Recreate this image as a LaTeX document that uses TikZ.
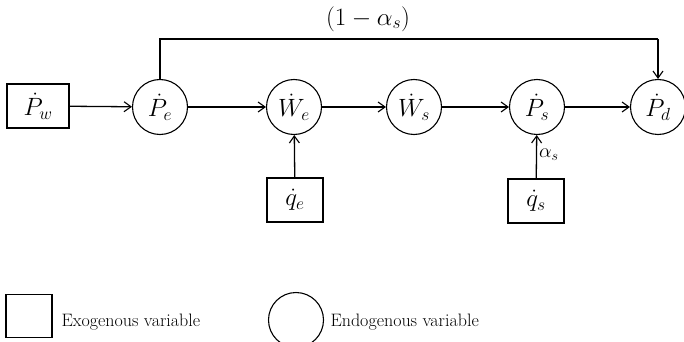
\documentclass[tikz,border=0pt]{standalone}
\usepackage{fix-cm}
\usetikzlibrary{arrows.meta}
\begin{document}
\begin{tikzpicture}[x=1pt,y=-1pt,
  exo/.style={draw,line width=1.1pt,minimum width=#1,minimum height=44pt,inner sep=0pt},
  endo/.style={draw,circle,line width=1.1pt,minimum size=55pt,inner sep=0pt},
  conn/.style={line width=1.3pt,-{Straight Barb[length=7pt,width=10pt,line width=1.1pt]}},
  mfont/.style={font=\fontsize{25}{28}\selectfont},
  sfont/.style={font=\fontsize{20}{24}\selectfont},
  lfont/.style={font=\fontsize{25}{28}\selectfont},
  tfont/.style={font=\fontsize{18}{21}\selectfont}]
\useasboundingbox (0,0) rectangle (684,342);
\node[exo=62pt,mfont] (pw) at (38,106) {$\dot{P}_w$};
\node[endo,mfont] (pe) at (160,107) {$\dot{P}_e$};
\node[endo,mfont] (we) at (294,107) {$\dot{W}_e$};
\node[endo,mfont] (ws) at (414,107) {$\dot{W}_s$};
\node[endo,mfont] (ps) at (537,107) {$\dot{P}_s$};
\node[endo,mfont] (pd) at (658,107) {$\dot{P}_d$};
\node[exo=56pt,mfont] (qe) at (295,200) {$\dot{q}_e$};
\node[exo=56pt,mfont] (qs) at (536,201) {$\dot{q}_s$};
\draw[conn] (pw) -- (pe);
\draw[conn] (pe) -- (we);
\draw[conn] (we) -- (ws);
\draw[conn] (ws) -- (ps);
\draw[conn] (ps) -- (pd);
\draw[conn] (qe) -- (we);
\draw[conn] (qs) -- node[right,sfont,pos=0.55,inner sep=2pt] (as) {$\alpha_s$} (ps);
\coordinate (c1) at (160,39);
\coordinate (c2) at (658,39);
\draw[line width=1.3pt] (pe.north) -- (c1) -- (c2);
\draw[conn] (c2) -- (pd.north);
\node[lfont,inner sep=0pt] (lab) at (368,19) {$(1-\alpha_s)$};
% legend
\node[exo=46pt,minimum height=43pt] (lsq) at (29,316) {};
\node[tfont,anchor=west] (lsqt) at (58,322) {Exogenous variable};
\node[endo] (lci) at (296,320) {};
\node[tfont,anchor=west] (lcit) at (327,322) {Endogenous variable};
\end{tikzpicture}
\end{document}
